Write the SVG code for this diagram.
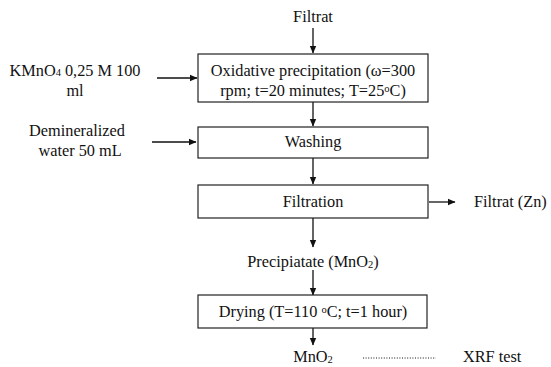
<svg xmlns="http://www.w3.org/2000/svg" width="551" height="367" viewBox="0 0 551 367" font-family="'Liberation Serif','Times New Roman',serif">
<style>
text{font-family:"Liberation Serif","Times New Roman",serif;font-size:16.3px;fill:#111}
.m{text-anchor:middle}
.box{fill:#fff;stroke:#222;stroke-width:1.2}
.ln{stroke:#111;stroke-width:1.3;fill:none}
.dot{stroke:#111;stroke-width:1;stroke-dasharray:1 1.6;fill:none}
.sub{font-size:10.5px}
</style>
<defs>
<marker id="ah" markerWidth="8" markerHeight="8" refX="7" refY="4" orient="auto" markerUnits="userSpaceOnUse">
<path d="M0,0.8 L7.5,4 L0,7.2 Z" fill="#111"/>
</marker>
</defs>
<g id="connectors">
<line class="ln" x1="313" y1="28" x2="313" y2="53" marker-end="url(#ah)"/>
<line class="ln" x1="157" y1="78" x2="197" y2="78" marker-end="url(#ah)"/>
<line class="ln" x1="313" y1="102" x2="313" y2="126" marker-end="url(#ah)"/>
<line class="ln" x1="152" y1="142" x2="196" y2="142" marker-end="url(#ah)"/>
<line class="ln" x1="313" y1="158" x2="313" y2="184" marker-end="url(#ah)"/>
<line class="ln" x1="429" y1="202" x2="455" y2="202" marker-end="url(#ah)"/>
<line class="ln" x1="313" y1="218" x2="313" y2="247" marker-end="url(#ah)"/>
<line class="ln" x1="313" y1="270" x2="313" y2="295" marker-end="url(#ah)"/>
<line class="ln" x1="313" y1="328" x2="313" y2="345" marker-end="url(#ah)"/>
<line class="dot" x1="363" y1="358" x2="436" y2="358"/>
</g>
<g id="filtrat-in"><text class="m" x="313" y="22">Filtrat</text></g>
<g id="kmno4">
<text class="m" x="75" y="76">KMnO<tspan class="sub">4</tspan> 0,25 M 100</text>
<text class="m" x="75" y="96">ml</text>
</g>
<g id="oxidative">
<rect class="box" x="198" y="54" width="230" height="48"/>
<text class="m" x="313" y="76">Oxidative precipitation (ω=300</text>
<text class="m" x="313" y="96">rpm; t=20 minutes; T=25<tspan class="sub" dy="-4">o</tspan><tspan dy="4">C)</tspan></text>
</g>
<g id="water">
<text class="m" x="77" y="136">Demineralized</text>
<text class="m" x="80" y="156">water 50 mL</text>
</g>
<g id="washing">
<rect class="box" x="198" y="127" width="230" height="31"/>
<text class="m" x="313" y="147">Washing</text>
</g>
<g id="filtration">
<rect class="box" x="198" y="185" width="230" height="33"/>
<text class="m" x="313" y="207">Filtration</text>
</g>
<g id="filtrat-zn"><text x="474" y="207">Filtrat (Zn)</text></g>
<g id="precipitate"><text class="m" x="313" y="267">Precipiatate (MnO<tspan class="sub" dy="1">2</tspan><tspan dy="-1">)</tspan></text></g>
<g id="drying">
<rect class="box" x="198" y="295" width="229" height="33"/>
<text class="m" x="313" y="317">Drying (T=110 <tspan class="sub" dy="-4">o</tspan><tspan dy="4">C; t=1 hour)</tspan></text>
</g>
<g id="mno2"><text class="m" x="313" y="362">MnO<tspan class="sub" dy="1">2</tspan></text></g>
<g id="xrf"><text x="463" y="362">XRF test</text></g>
</svg>
